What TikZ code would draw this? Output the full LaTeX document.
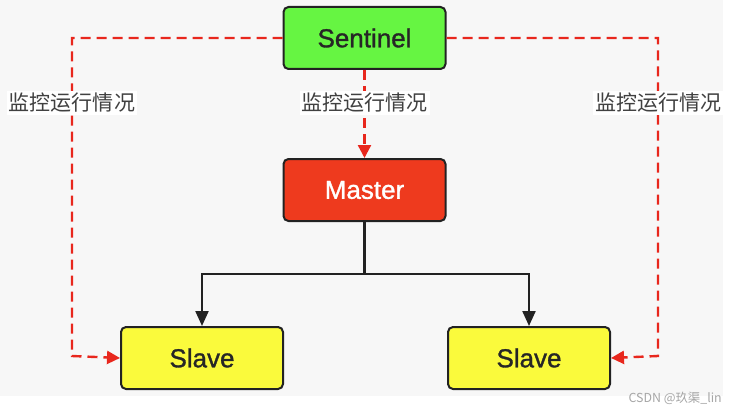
\documentclass[tikz,border=0pt]{standalone}
\usepackage{fontspec}
\setmainfont{Liberation Sans}
\newfontfamily\boxfont[FakeBold=1.2]{Liberation Sans}
\newfontfamily\cjk{Noto Sans CJK SC}
\usetikzlibrary{arrows.meta}
\definecolor{bggray}{HTML}{F7F7F7}
\definecolor{sgreen}{HTML}{66F542}
\definecolor{mred}{HTML}{EE3A1E}
\definecolor{syellow}{HTML}{FAFA3C}
\definecolor{dred}{HTML}{E8271D}
\definecolor{edge}{HTML}{222222}
\tikzset{
  box/.style={draw=edge, line width=2pt, rounded corners=5pt, minimum width=162pt, minimum height=62pt, font=\boxfont\fontsize{26}{29}\selectfont, text=black!85},
  mon/.style={dred, line width=2.4pt, dash pattern=on 10pt off 6pt, -{Triangle[length=13pt,width=13pt]}},
  ctl/.style={edge, line width=2.2pt, -{Triangle[length=15pt,width=13pt]}},
  lbl/.style={fill=white, inner sep=2pt, font=\cjk\fontsize{21}{23}\selectfont, text=black!75},
}
\begin{document}
\begin{tikzpicture}[x=1pt,y=-1pt]
\useasboundingbox (0,0) rectangle (735,409);
\fill[white] (0,0) rectangle (735,409);
\fill[bggray] (0,0) rectangle (723,396);
\node[box, fill=sgreen] (sen) at (364.5,38) {Sentinel};
\node[box, fill=mred, text=white] (mas) at (364.5,190) {Master};
\node[box, fill=syellow] (sl1) at (202,358) {Slave};
\node[box, fill=syellow] (sl2) at (529,358) {Slave};
\coordinate (lc) at (72,38);
\coordinate (rc) at (658,38);
\coordinate (lb) at (72,356);
\coordinate (rb) at (658,356);
\coordinate (jn) at (364.5,274);
\draw[mon] (sen.west) -- (lc) -- (lb) -- (sl1.west);
\draw[mon] (sen.east) -- (rc) -- (rb) -- (sl2.east);
\draw[mon] (sen.south) -- (mas.north);
\node[lbl] (l1) at (72,103) {监控运行情况};
\node[lbl] (l2) at (364.5,103) {监控运行情况};
\node[lbl] (l3) at (658,103) {监控运行情况};
\draw[edge, line width=2.2pt] (mas.south) -- (jn);
\draw[ctl] (jn) -| (sl1.north);
\draw[ctl] (jn) -| (sl2.north);
\node[anchor=east, text=black!35, font=\cjk\fontsize{12.4}{14}\selectfont, inner sep=0pt] (wm) at (722,398) {CSDN @玖渠\_lin};
\end{tikzpicture}
\end{document}
